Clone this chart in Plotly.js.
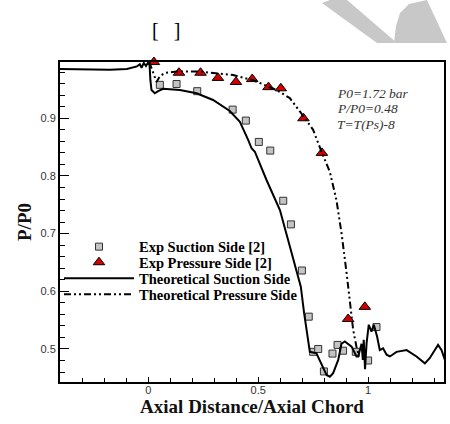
<!DOCTYPE html>
<html>
<head>
<meta charset="utf-8">
<script src="https://cdn.plot.ly/plotly-3.0.1.min.js"></script>
<style>html,body{margin:0;padding:0;background:#fff;}#chart{width:450px;height:424px;}</style>
</head>
<body>
<div id="chart"></div>
<script>
// Experimental suction side (squares)
const expSuctionX = [0.053, 0.129, 0.223, 0.384, 0.444, 0.503, 0.555, 0.614, 0.649, 0.699, 0.730, 0.750, 0.773, 0.799, 0.838, 0.861, 0.886, 0.944, 1.000, 1.038];
const expSuctionY = [0.958, 0.9595, 0.947, 0.915, 0.896, 0.859, 0.844, 0.757, 0.716, 0.636, 0.556, 0.495, 0.500, 0.461, 0.492, 0.507, 0.497, 0.495, 0.480, 0.538];
// Experimental pressure side (triangles)
const expPressureX = [0.026, 0.140, 0.238, 0.317, 0.399, 0.473, 0.547, 0.603, 0.706, 0.790, 0.909, 0.985];
const expPressureY = [0.9975, 0.979, 0.979, 0.970, 0.963, 0.968, 0.954, 0.952, 0.900, 0.840, 0.552, 0.573];
// Theoretical suction side
const thSuctionX = [-0.401, -0.265, -0.174, -0.097, -0.065, -0.051, -0.038, -0.030, -0.020, -0.010, 0.001, 0.006, 0.010, 0.015, 0.030, 0.045, 0.068, 0.099, 0.144, 0.220, 0.295, 0.371, 0.417, 0.455, 0.470, 0.485, 0.538, 0.599, 0.629, 0.667, 0.694, 0.709, 0.735, 0.765, 0.788, 0.811, 0.826, 0.841, 0.864, 0.879, 0.894, 0.925, 0.947, 0.955, 0.970, 0.976, 0.980, 0.986, 0.993, 1.003, 1.015, 1.026, 1.041, 1.053, 1.068, 1.084, 1.099, 1.129, 1.175, 1.220, 1.258, 1.280, 1.318, 1.334, 1.349];
const thSuctionY = [0.9855, 0.985, 0.984, 0.9855, 0.988, 0.990, 0.9936, 0.9877, 0.996, 0.9907, 0.9976, 0.994, 0.966, 0.949, 0.9433, 0.947, 0.951, 0.950, 0.949, 0.9433, 0.9317, 0.9127, 0.894, 0.862, 0.848, 0.842, 0.793, 0.741, 0.700, 0.649, 0.608, 0.562, 0.495, 0.4925, 0.474, 0.455, 0.452, 0.458, 0.481, 0.509, 0.513, 0.504, 0.487, 0.487, 0.509, 0.481, 0.516, 0.465, 0.510, 0.542, 0.530, 0.542, 0.521, 0.498, 0.501, 0.490, 0.487, 0.495, 0.498, 0.487, 0.475, 0.484, 0.507, 0.498, 0.481];
// Theoretical pressure side
const thPressureX = [0.005, 0.021, 0.038, 0.053, 0.076, 0.129, 0.235, 0.386, 0.477, 0.584, 0.644, 0.705, 0.750, 0.788, 0.826, 0.856, 0.879, 0.902, 0.917, 0.932, 0.947, 0.959];
const thPressureY = [0.9976, 0.980, 0.963, 0.973, 0.9786, 0.981, 0.981, 0.975, 0.966, 0.949, 0.935, 0.904, 0.880, 0.842, 0.807, 0.758, 0.701, 0.632, 0.579, 0.533, 0.504, 0.487];

const legendNames = ["Exp Suction Side [2]", "Exp Pressure Side [2]", "Theoretical Suction Side", "Theoretical Pressure Side"];
const xTickVals = [0, 0.5, 1];
const xTickText = ["0", "0.5", "1"];
const yTickVals = [0.5, 0.6, 0.7, 0.8, 0.9];
const yTickText = ["0.5", "0.6", "0.7", "0.8", "0.9"];
const noteLines = ["P0=1.72 bar", "P/P0=0.48", "T=T(Ps)-8"];

// layout helpers (pixel -> paper)
const M = {l: 60, r: 6, t: 62, b: 42};
const PW = 450 - M.l - M.r, PH = 424 - M.t - M.b;
const px = v => (v - M.l) / PW;
const py = v => (424 - M.b - v) / PH;

const serif = "Liberation Serif, Times New Roman, serif";
const sans = "Liberation Sans, Arial, sans-serif";

const traces = [
  {x: expSuctionX, y: expSuctionY, type: 'scatter', mode: 'markers', name: legendNames[0], legend: 'legend',
   marker: {symbol: 'square', size: 7, color: '#c4c4c4', line: {color: '#333', width: 1}}},
  {x: expPressureX, y: expPressureY, type: 'scatter', mode: 'markers', name: legendNames[1], legend: 'legend2', cliponaxis: false,
   marker: {symbol: 'triangle-up', size: 10, color: '#d40000', line: {color: '#000', width: 1}}},
  {x: thSuctionX, y: thSuctionY, type: 'scatter', mode: 'lines', name: legendNames[2], legend: 'legend3',
   line: {color: '#000', width: 2}},
  {x: thPressureX, y: thPressureY, type: 'scatter', mode: 'lines', name: legendNames[3], legend: 'legend4',
   line: {color: '#000', width: 2, dash: '7px,3px,2px,3px,2px,3px'}}
];

function leg(ypix) {
  return {x: px(59), y: py(ypix), xanchor: 'left', yanchor: 'middle', bgcolor: 'rgba(0,0,0,0)',
          borderwidth: 0, itemwidth: 70, font: {family: serif, size: 14.5, color: '#000', weight: 'bold'}};
}

// watermark outline in page pixels (decoration, not data)
const wmStroke1 = [[322, 3], [330, 0], [347, 0], [397, 43], [377, 43]];
const wmStroke2 = [[394, 43], [396, 26], [400, 13], [409, 4], [427, 0], [447, 43]];
const toPath = pts => 'M' + pts.map(p => px(p[0]).toFixed(4) + ' ' + py(p[1]).toFixed(4)).join(' L') + ' Z';

const layout = {
  width: 450, height: 424,
  margin: M,
  paper_bgcolor: '#fff', plot_bgcolor: '#fff',
  showlegend: true,
  legend: leg(246.7),
  legend2: leg(262.3),
  legend3: leg(278.3),
  legend4: leg(294.3),
  xaxis: {
    range: [-0.401, 1.345], tickvals: xTickVals, ticktext: xTickText,
    ticks: 'inside', ticklen: 5, tickwidth: 1, tickcolor: '#000',
    minor: {dtick: 0.1, tick0: 0, ticks: 'inside', ticklen: 4, tickcolor: '#000'},
    showline: true, linewidth: 2, linecolor: '#000', mirror: true,
    showgrid: false, zeroline: false, ticklabelstandoff: -3,
    tickfont: {family: sans, size: 11, color: '#333'},
    title: {text: 'Axial Distance/Axial Chord', font: {family: serif, size: 19, color: '#111', weight: 'bold'}, standoff: 1}
  },
  yaxis: {
    range: [0.4427, 0.9976], tickvals: yTickVals, ticktext: yTickText,
    ticks: 'inside', ticklen: 9, tickwidth: 1, tickcolor: '#000',
    minor: {dtick: 0.02, tick0: 0, ticks: 'inside', ticklen: 5, tickcolor: '#000'},
    showline: true, linewidth: 2, linecolor: '#000', mirror: true,
    showgrid: false, zeroline: false,
    tickfont: {family: sans, size: 11, color: '#333'},
    title: {text: 'P/P0', font: {family: serif, size: 19, color: '#111', weight: 'bold'}, standoff: 4}
  },
  annotations: [
    {xref: 'paper', yref: 'paper', x: px(150), y: py(16.5), text: '[&nbsp;&nbsp;&nbsp;]', showarrow: false,
     font: {family: serif, size: 20, color: '#000'}},
    ...noteLines.map((t, i) => ({xref: 'paper', yref: 'paper', x: px(335), y: py([93, 108.5, 124][i]),
      xanchor: 'left', yanchor: 'middle', text: t, showarrow: false,
      font: {family: serif, size: 13.5, color: '#333', style: 'italic'}}))
  ],
  shapes: [
    {type: 'path', xref: 'paper', yref: 'paper', layer: 'above', line: {width: 0}, fillcolor: '#c8c8c8', path: toPath(wmStroke1)},
    {type: 'path', xref: 'paper', yref: 'paper', layer: 'above', line: {width: 0}, fillcolor: '#c8c8c8', path: toPath(wmStroke2)}
  ]
};

Plotly.newPlot('chart', traces, layout, {displayModeBar: false, staticPlot: true});
</script>
</body>
</html>
